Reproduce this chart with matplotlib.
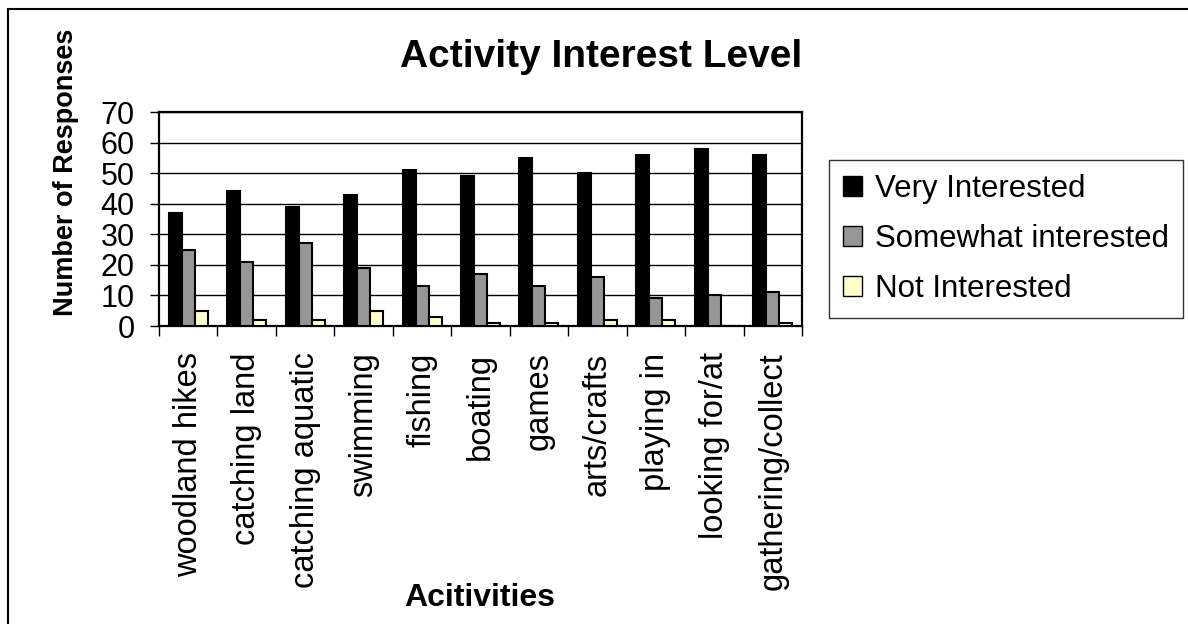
import numpy as np
import matplotlib
matplotlib.use('Agg')
import matplotlib.pyplot as plt
from matplotlib.patches import Patch, Rectangle

plt.rcParams['font.family'] = ['Liberation Sans', 'DejaVu Sans']

# Survey counts per activity
activities = ['woodland hikes', 'catching land', 'catching aquatic', 'swimming',
              'fishing', 'boating', 'games', 'arts/crafts', 'playing in',
              'looking for/at', 'gathering/collect']
very_interested = [37, 44, 39, 43, 51, 49, 55, 50, 56, 58, 56]
somewhat_interested = [25, 21, 27, 19, 13, 17, 13, 16, 9, 10, 11]
not_interested = [5, 2, 2, 5, 3, 1, 1, 2, 2, 0, 1]

series = [('Very Interested', very_interested, '#000000'),
          ('Somewhat interested', somewhat_interested, '#969696'),
          ('Not Interested', not_interested, '#FFFFCC')]

W, H = 1188, 624
fig = plt.figure(figsize=(W / 100, H / 100), dpi=100)
ax = fig.add_axes([159 / W, 1 - 326 / H, (802 - 159) / W, (326 - 112) / H])

# outer chart frame (runs off right/bottom edges)
fig.patches.append(Rectangle((8 / W, -0.1), 1.2, 1 - 9 / H + 0.1, transform=fig.transFigure,
                             fill=False, edgecolor='black', lw=1.5))

x = np.arange(len(activities))
bw = 1 / 4.5
for i, (name, vals, col) in enumerate(series):
    ax.bar(x + (i - 1) * bw, vals, width=bw, color=col, edgecolor='black',
           linewidth=1.5, label=name, zorder=3)

ax.set_xlim(-0.5, len(activities) - 0.5)
ax.set_ylim(0, 70)
ax.set_yticks(np.arange(0, 71, 10))
ax.yaxis.grid(True, color='black', lw=1.0, zorder=1)
ax.set_axisbelow(True)

ax.set_xticks(x)
ax.set_xticklabels(activities, rotation=90, fontsize=23.5, va='top')
ax.set_xticks(np.arange(-0.5, len(activities)), minor=True)
ax.tick_params(axis='x', which='major', length=0, pad=19)
ax.tick_params(axis='x', which='minor', length=7, width=1, direction='out')
ax.tick_params(axis='y', labelsize=22, length=6.5, width=1, direction='out', pad=11)

for s in ax.spines.values():
    s.set_linewidth(1.6)

handles = [Patch(facecolor=c, edgecolor='black', lw=1.0, label=n) for n, _, c in series]
leg = fig.legend(handles=handles, loc='center', bbox_to_anchor=(1006 / W, 1 - 239 / H),
                 fontsize=22.5, frameon=True, fancybox=False, edgecolor='black',
                 handlelength=0.6, handleheight=0.6, handletextpad=0.4,
                 labelspacing=0.64, borderpad=0.45, borderaxespad=0)
leg.get_frame().set_linewidth(1.0)

fig.text(601 / W, 1 - 57 / H, 'Activity Interest Level', fontsize=28, fontweight='bold',
         ha='center', va='center')
fig.text(66 / W, 1 - 172 / H, 'Number of Responses', fontsize=19.5, fontweight='bold',
         rotation=90, ha='center', va='center')
fig.text(480 / W, 1 - 598 / H, 'Acitivities', fontsize=23, fontweight='bold',
         ha='center', va='center')

fig.savefig('out.png', dpi=100)
